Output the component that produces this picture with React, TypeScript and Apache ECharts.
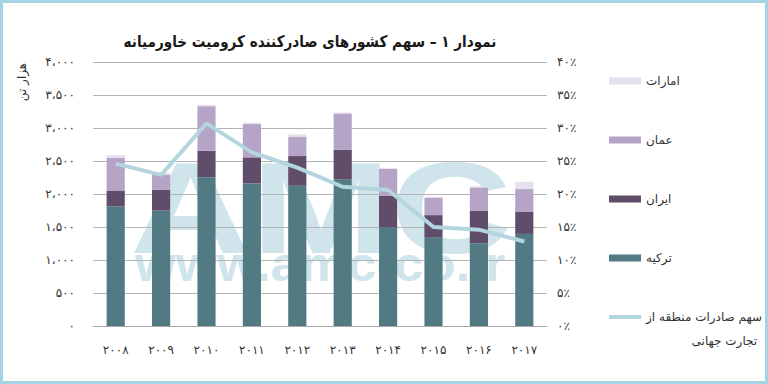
import React, { useEffect, useRef } from "react";
import * as echarts from "echarts";

const years = ["۲۰۰۸", "۲۰۰۹", "۲۰۱۰", "۲۰۱۱", "۲۰۱۲", "۲۰۱۳", "۲۰۱۴", "۲۰۱۵", "۲۰۱۶", "۲۰۱۷"];
const turkey = [1810, 1750, 2255, 2160, 2125, 2220, 1495, 1340, 1255, 1395];
const iran = [235, 315, 400, 395, 450, 450, 475, 340, 495, 340];
const oman = [505, 230, 675, 505, 295, 550, 410, 265, 350, 340];
const emirates = [40, 25, 20, 20, 35, 15, 15, 15, 15, 110];
const share = [24.6, 22.9, 30.7, 26.3, 24.0, 21.1, 20.6, 15.0, 14.6, 12.8];
const leftTicks = ["۰", "۵۰۰", "۱،۰۰۰", "۱،۵۰۰", "۲،۰۰۰", "۲،۵۰۰", "۳،۰۰۰", "۳،۵۰۰", "۴،۰۰۰"];
const rightTicks = ["۰٪", "۵٪", "۱۰٪", "۱۵٪", "۲۰٪", "۲۵٪", "۳۰٪", "۳۵٪", "۴۰٪"];

const NAME_T = "ترکیه";
const NAME_I = "ایران";
const NAME_O = "عمان";
const NAME_E = "امارات";
const NAME_L1 = "سهم صادرات منطقه از";
const NAME_L2 = "تجارت جهانی";
const TITLE = "نمودار ۱ – سهم کشورهای صادرکننده کرومیت خاورمیانه";
const Y_NAME = "هزار تن";

const FONT = "DejaVu Sans";
const LINE_COLOR = "#b3d5df";

export default function App() {
  const ref = useRef<HTMLDivElement>(null);
  useEffect(() => {
    if (!ref.current) return;
    const chart = echarts.init(ref.current, null, { renderer: "svg" });
    const legendLeft = 604;
    const iconW = 32;
    let l1w = 110;
    try {
      const c = document.createElement("canvas").getContext("2d");
      if (c) {
        c.font = `12px "${FONT}"`;
        l1w = c.measureText(NAME_L1).width;
      }
    } catch (e) {}
    const textStart = legendLeft + iconW + 5;
    const barCommon = { type: "bar", stack: "s", barWidth: "40%", yAxisIndex: 0 };
    chart.setOption({
      animation: false,
      textStyle: { fontFamily: FONT },
      grid: { left: 93, right: 221, top: 62, bottom: 58 },
      xAxis: {
        type: "category",
        data: years,
        axisLine: { lineStyle: { color: "#a6a6a6" } },
        axisTick: { length: 6, lineStyle: { color: "#a6a6a6" } },
        axisLabel: { color: "#333", fontSize: 12, margin: 18, fontFamily: FONT },
      },
      yAxis: [
        {
          type: "value",
          min: 0,
          max: 4000,
          interval: 500,
          axisLine: { show: false },
          axisTick: { show: false },
          splitLine: { lineStyle: { color: "#b4b4b4" } },
          axisLabel: {
            color: "#333",
            fontSize: 12,
            margin: 18,
            fontFamily: FONT,
            formatter: (v: number) => leftTicks[Math.round(v / 500)] ?? "",
          },
        },
        {
          type: "value",
          min: 0,
          max: 40,
          interval: 5,
          position: "right",
          axisLine: { show: false },
          axisTick: { show: false },
          splitLine: { show: false },
          axisLabel: {
            color: "#333",
            fontSize: 12,
            margin: 10,
            fontFamily: FONT,
            formatter: (v: number) => rightTicks[Math.round(v / 5)] ?? "",
          },
        },
      ],
      legend: {
        orient: "vertical",
        left: legendLeft,
        top: 68,
        itemWidth: iconW,
        itemHeight: 7,
        itemGap: 43,
        textStyle: { color: "#333", fontSize: 12, lineHeight: 16, fontFamily: FONT },
        data: [
          { name: NAME_E, icon: "rect" },
          { name: NAME_O, icon: "rect" },
          { name: NAME_I, icon: "rect" },
          { name: NAME_T, icon: "rect" },
          {
            name: NAME_L1,
            icon: "path://M0,0h32v4h-32z",
            itemStyle: { color: LINE_COLOR, borderWidth: 0 },
          },
        ],
      },
      series: [
        { ...barCommon, name: NAME_T, data: turkey, itemStyle: { color: "#517a83" } },
        { ...barCommon, name: NAME_I, data: iran, itemStyle: { color: "#5f4d69" } },
        { ...barCommon, name: NAME_O, data: oman, itemStyle: { color: "#b5a4c6" } },
        { ...barCommon, name: NAME_E, data: emirates, itemStyle: { color: "#e5e0eb" } },
        {
          type: "line",
          name: NAME_L1,
          yAxisIndex: 1,
          data: share,
          symbol: "none",
          showSymbol: false,
          z: 5,
          lineStyle: { color: LINE_COLOR, width: 4 },
          itemStyle: { color: LINE_COLOR },
        },
      ],
      graphic: [
        {
          type: "text",
          z: -1,
          x: 130,
          y: 143,
          scaleX: 1.29,
          style: {
            text: "AMC",
            font: 'bold 130px "Liberation Sans"',
            fill: "#cfe4eb",
            textVerticalAlign: "top",
          },
          silent: true,
        },
        {
          type: "text",
          z: -1,
          x: 135,
          y: 240,
          scaleX: 1.1,
          style: {
            text: "www.amc-co.ir",
            font: 'bold 48px "Liberation Sans"',
            fill: "#cfe4eb",
          },
          silent: true,
        },
        {
          type: "text",
          x: 310,
          y: 41,
          scaleX: 0.85,
          style: {
            text: TITLE,
            font: `bold 16px "${FONT}"`,
            fill: "#1a1a1a",
            textAlign: "center",
            textVerticalAlign: "middle",
          },
        },
        {
          type: "text",
          x: 22,
          y: 82,
          rotation: Math.PI / 2,
          style: {
            text: Y_NAME,
            font: `12px "${FONT}"`,
            fill: "#333",
            textAlign: "center",
            textVerticalAlign: "middle",
          },
        },
        {
          type: "text",
          x: textStart + l1w,
          y: 341,
          style: {
            text: NAME_L2,
            font: `12px "${FONT}"`,
            fill: "#333",
            textAlign: "right",
            textVerticalAlign: "middle",
          },
        },
        {
          type: "rect",
          shape: { x: 1.5, y: 1.5, width: 765, height: 381 },
          style: { fill: "none", stroke: "#a3d5e4", lineWidth: 3 },
          silent: true,
        },
      ],
    });
    return () => chart.dispose();
  }, []);
  return (
    <div
      ref={ref}
      style={{ position: "fixed", left: 0, top: 0, width: 768, height: 384, background: "#fff" }}
    />
  );
}
